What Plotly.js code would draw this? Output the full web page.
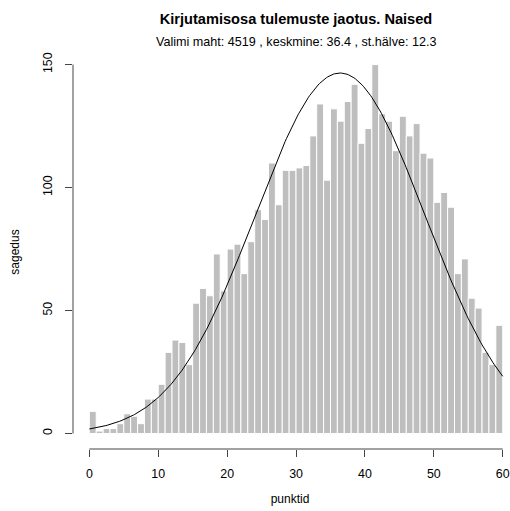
<!DOCTYPE html>
<html>
<head>
<meta charset="utf-8">
<script src="https://cdn.plot.ly/plotly-3.0.1.min.js"></script>
<style>html,body{margin:0;padding:0;background:#fff;}#chart{width:510px;height:511px;}</style>
</head>
<body>
<div id="chart"></div>
<script>
// Histogram bins (left edges 0..59, width 1) and counts
const binStart = [0,1,2,3,4,5,6,7,8,9,10,11,12,13,14,15,16,17,18,19,20,21,22,23,24,25,26,27,28,29,30,31,32,33,34,35,36,37,38,39,40,41,42,43,44,45,46,47,48,49,50,51,52,53,54,55,56,57,58,59];
const counts = [9,1,2,2,4,8,7,4,14,14,
                20,33,38,37,28,53,59,56,73,58,
                75,77,65,78,91,87,110,93,107,107,
                108,109,121,134,103,132,127,135,142,118,
                124,150,130,127,115,129,121,126,114,112,
                94,98,92,65,71,55,51,33,28,44];
// Sample statistics from the subtitle
const sampleSize = 4519;
const sampleMean = 36.4;
const sampleSd = 12.3;
const xTicks = [0,10,20,30,40,50,60];
const yTicks = [0,50,100,150];
const titleText = "Kirjutamisosa tulemuste jaotus. Naised";
const subtitleText = "Valimi maht: 4519 , keskmine: 36.4 , st.hälve: 12.3";
const xLabel = "punktid";
const yLabel = "sagedus";

// Normal density curve scaled to counts (as in the original: dnorm(x, mean, sd) * n)
const curveX = [];
const curveY = [];
for (let i = 0; i <= 300; i++) {
  const x = i * 60 / 300;
  curveX.push(x);
  const z = (x - sampleMean) / sampleSd;
  curveY.push(sampleSize * Math.exp(-0.5 * z * z) / (sampleSd * Math.sqrt(2 * Math.PI)));
}

const barTrace = {
  type: 'bar',
  x: binStart.map(v => v + 0.5),
  y: counts,
  width: 1,
  marker: {color: '#bebebe', line: {color: '#ffffff', width: 1}},
  hoverinfo: 'x+y'
};
const curveTrace = {
  type: 'scatter', mode: 'lines',
  x: curveX, y: curveY,
  line: {color: '#000000', width: 1},
  hoverinfo: 'skip'
};

const font = {family: 'Liberation Sans, Arial, sans-serif', color: '#000', size: 12};

const layout = {
  width: 510, height: 511,
  margin: {l: 73, r: 3, t: 55, b: 62},
  paper_bgcolor: '#fff', plot_bgcolor: '#fff',
  showlegend: false,
  font: font,
  bargap: 0,
  title: {
    text: '<b>' + titleText + '</b>',
    font: {family: 'Liberation Sans, Arial, sans-serif', size: 14.6, color: '#000'},
    xref: 'container', x: 296/510, xanchor: 'center',
    yref: 'container', y: 1 - 19/511, yanchor: 'middle'
  },
  annotations: [{
    text: subtitleText, showarrow: false,
    xref: 'paper', yref: 'paper',
    x: (296-73)/434, y: 1 + (55-42)/394, xanchor: 'center', yanchor: 'middle',
    font: {family: 'Liberation Sans, Arial, sans-serif', size: 12.6, color: '#000'}
  }],
  xaxis: {
    range: [-2.37, 60.62],
    tickvals: xTicks, ticktext: xTicks.map(String),
    ticks: 'outside', ticklen: 7, tickcolor: '#444', tickwidth: 1,
    ticklabelstandoff: 6,
    tickfont: {family: 'Liberation Sans, Arial, sans-serif', size: 12.4, color: '#000'},
    showgrid: false, zeroline: false, showline: false,
    title: {text: xLabel, font: font, standoff: 14},
    fixedrange: true
  },
  yaxis: {
    range: [-6.3, 153.9],
    tickvals: yTicks, ticktext: yTicks.map(String),
    tickangle: -90,
    ticks: 'outside', ticklen: 7, tickcolor: '#444', tickwidth: 1,
    ticklabelstandoff: 8,
    tickfont: {family: 'Liberation Sans, Arial, sans-serif', size: 12.4, color: '#000'},
    showgrid: false, zeroline: false, showline: false,
    title: {text: yLabel, font: font, standoff: 18},
    fixedrange: true
  },
  shapes: [
    {type: 'line', xref: 'x', yref: 'paper', x0: 0, x1: 60, y0: 0, y1: 0, line: {color: '#444', width: 1}},
    {type: 'line', xref: 'paper', yref: 'y', x0: 0, x1: 0, y0: 0, y1: 150, line: {color: '#444', width: 1}}
  ]
};

Plotly.newPlot('chart', [barTrace, curveTrace], layout, {displayModeBar: false, staticPlot: true});
</script>
</body>
</html>
